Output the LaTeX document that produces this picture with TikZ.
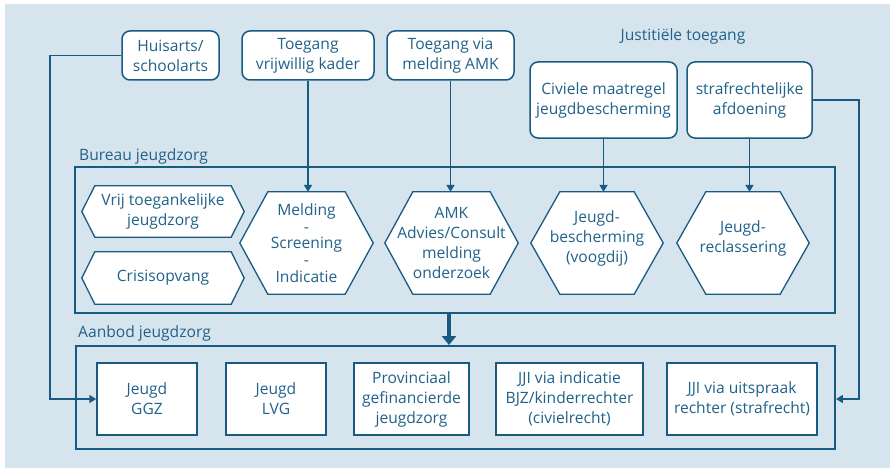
\documentclass[tikz,border=0pt]{standalone}
\usepackage{fontspec}
\setmainfont{Open Sans}
\usetikzlibrary{arrows.meta}
\definecolor{bgblue}{RGB}{214,228,238}
\definecolor{lineblue}{RGB}{24,90,130}
\definecolor{txtblue}{RGB}{32,98,138}
\newcommand\boxfont{\fontsize{15.6}{20}\selectfont}
\newcommand\tightfont{\fontsize{15.6}{16.8}\selectfont}
\pgfdeclarelayer{bg}
\pgfdeclarelayer{hex}
\pgfsetlayers{bg,hex,main}
\newcommand\hexdraw[2]{%
  \begin{pgfonlayer}{hex}
  \draw[hexline] (#1.west) -- ([xshift=#2]#1.north west) -- ([xshift=-#2]#1.north east)
     -- (#1.east) -- ([xshift=-#2]#1.south east) -- ([xshift=#2]#1.south west) -- cycle;
  \end{pgfonlayer}}
\begin{document}
\begin{tikzpicture}[x=1pt,y=-1pt,
  tbox/.style={draw=lineblue,line width=1.5pt,fill=white,rounded corners=8pt,inner sep=0pt,align=center,text=txtblue,font=\boxfont},
  hexn/.style={inner sep=0pt,align=center,text=txtblue,font=\boxfont},
  hexline/.style={draw=lineblue,line width=1.3pt,fill=white,line join=miter},
  rbox/.style={draw=lineblue,line width=1.5pt,fill=white,inner sep=0pt,align=center,text=txtblue,font=\boxfont},
  frame/.style={draw=lineblue,line width=1.9pt,inner sep=0pt},
  conn/.style={draw=lineblue,line width=1.7pt},
  arr/.style={conn,-{Triangle[width=8pt,length=7pt]}},
  bigarr/.style={draw=lineblue,line width=4pt,-{Triangle[width=14pt,length=9pt]}},
  lbl/.style={text=txtblue,font=\boxfont,inner sep=0pt}]
\useasboundingbox (0,0) rectangle (890,468);
\begin{pgfonlayer}{bg}
\fill[bgblue] (5,4) rectangle (890,468);
\end{pgfonlayer}

% top boxes
\node[tbox,minimum width=97pt,minimum height=49pt] (hu) at (170.5,55.5) {Huisarts/\\schoolarts};
\node[tbox,minimum width=132pt,minimum height=49pt] (vk) at (308,55.5) {Toegang\\vrijwillig kader};
\node[tbox,minimum width=127pt,minimum height=49pt] (ta) at (450.5,55.5) {Toegang via\\melding AMK};
\node[lbl,anchor=base] (ljus) at (683,41) {Justitiële toegang};
\node[tbox,minimum width=147pt,minimum height=76pt] (civ) at (603.5,100) {Civiele maatregel\\jeugdbescherming};
\node[tbox,minimum width=125pt,minimum height=76pt] (str) at (749.5,100) {strafrechtelijke\\afdoening};

% Bureau jeugdzorg
\node[lbl,anchor=base west] (lbur) at (79,160) {Bureau jeugdzorg};
\node[frame,minimum width=760pt,minimum height=146pt] (bur) at (455,240) {};

\node[hexn,minimum width=162pt,minimum height=51pt] (vrij) at (163,211.5) {Vrij toegankelijke\\jeugdzorg};
\hexdraw{vrij}{13pt}
\node[hexn,minimum width=162pt,minimum height=52pt] (cris) at (163,278) {Crisisopvang};
\hexdraw{cris}{13pt}
\node[hexn,font=\tightfont,minimum width=133pt,minimum height=102pt] (mel) at (306.5,243) {Melding\\-\\Screening\\-\\Indicatie};
\hexdraw{mel}{28pt}
\node[hexn,minimum width=133pt,minimum height=102pt] (amk) at (451.5,243) {AMK\\Advies/Consult\\melding\\onderzoek};
\hexdraw{amk}{28pt}
\node[hexn,minimum width=132pt,minimum height=102pt] (jb) at (597,243) {};
\node[hexn] (jbt) at ([yshift=5pt]jb.center) {Jeugd-\\bescherming\\(voogdij)};
\hexdraw{jb}{29pt}
\node[hexn,minimum width=132pt,minimum height=102pt] (jr) at (743,243) {};
\node[hexn] (jrt) at ([yshift=5pt]jr.center) {Jeugd-\\reclassering};
\hexdraw{jr}{29pt}

% Aanbod jeugdzorg
\node[lbl,anchor=base west] (laan) at (78,337) {Aanbod jeugdzorg};
\node[frame,minimum width=759pt,minimum height=103pt] (aan) at (455.5,397.5) {};
\node[rbox,minimum width=100pt,minimum height=72pt] (ggz) at (147,399) {Jeugd\\GGZ};
\node[rbox,minimum width=100pt,minimum height=72pt] (lvg) at (276,399) {Jeugd\\LVG};
\node[rbox,minimum width=115pt,minimum height=72pt] (prov) at (411.5,399) {Provinciaal\\gefinancierde\\jeugdzorg};
\node[rbox,minimum width=147pt,minimum height=72pt] (jj1) at (569.5,399) {JJI via indicatie\\BJZ/kinderrechter\\(civielrecht)};
\node[rbox,minimum width=150pt,minimum height=72pt] (jj2) at (742,399) {JJI via uitspraak\\rechter (strafrecht)};

% connectors
\draw[arr] (vk.south) -- (vk.south |- mel.north);
\draw[arr] (ta.south) -- (ta.south |- amk.north);
\draw[arr] (civ.south) -- (civ.south |- jb.north);
\draw[arr] (str.south) -- (str.south |- jr.north);
\draw[arr] (hu.west) -| ([xshift=-46pt]ggz.west) -- (ggz.west);
\coordinate (aj) at (aan.east |- jj2.west);
\draw[arr] (str.east) -| ([xshift=23pt]aj) -- (aj);
\coordinate (bs) at ([xshift=-6pt]bur.south);
\draw[bigarr] (bs) -- (bs |- aan.north);
\end{tikzpicture}
\end{document}
